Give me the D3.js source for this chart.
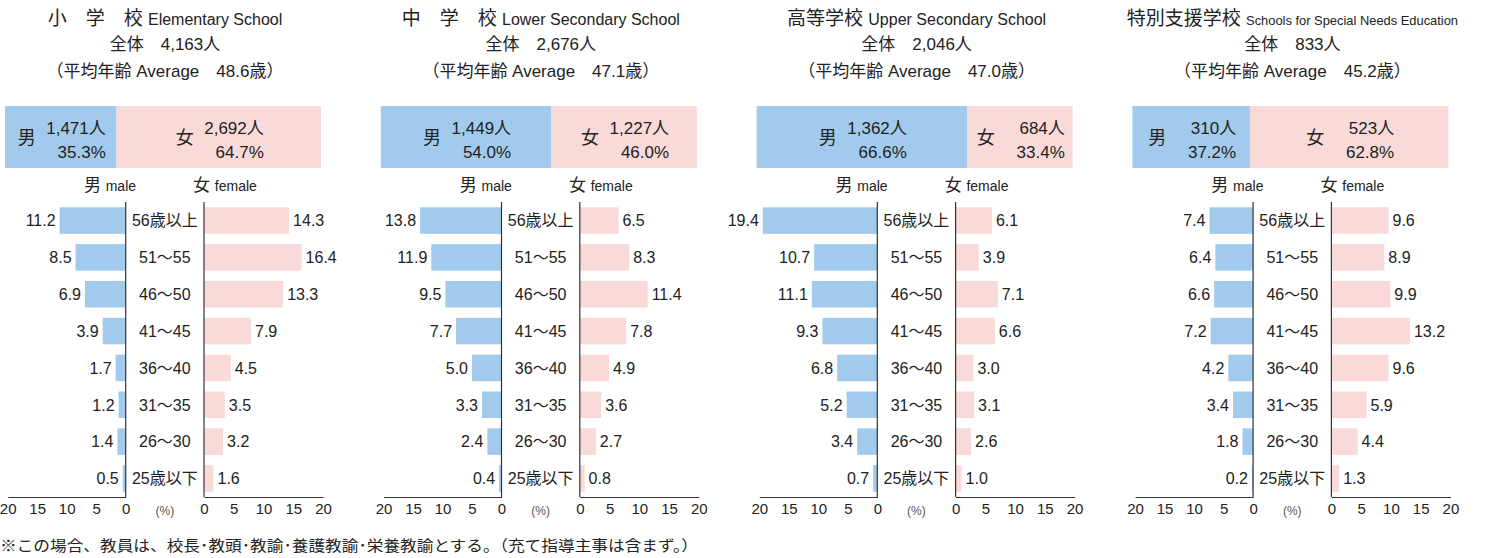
<!DOCTYPE html>
<html>
<head>
<meta charset="utf-8">
<script src="https://cdn.jsdelivr.net/npm/d3@7"></script>
<style>
  body { margin: 0; background: #fff; }
  svg text { font-family: "Liberation Sans", "Noto Sans CJK JP", sans-serif; fill: #222; }
</style>
</head>
<body>
<div id="chart"></div>
<script>
// Data
const titleJa = ["小　学　校", "中　学　校", "高等学校", "特別支援学校"];
const titleEn = ["Elementary School", "Lower Secondary School", "Upper Secondary School", "Schools for Special Needs Education"];
const totals = ["4,163", "2,676", "2,046", "833"];
const avgAge = ["48.6", "47.1", "47.0", "45.2"];
const maleCount = ["1,471", "1,449", "1,362", "310"];
const femaleCount = ["2,692", "1,227", "684", "523"];
const malePct = [35.3, 54.0, 66.6, 37.2];
const femalePct = [64.7, 46.0, 33.4, 62.8];
const ageGroups = ["56歳以上", "51～55", "46～50", "41～45", "36～40", "31～35", "26～30", "25歳以下"];
const maleShare = [
  [11.2, 8.5, 6.9, 3.9, 1.7, 1.2, 1.4, 0.5],
  [13.8, 11.9, 9.5, 7.7, 5.0, 3.3, 2.4, 0.4],
  [19.4, 10.7, 11.1, 9.3, 6.8, 5.2, 3.4, 0.7],
  [7.4, 6.4, 6.6, 7.2, 4.2, 3.4, 1.8, 0.2]
];
const femaleShare = [
  [14.3, 16.4, 13.3, 7.9, 4.5, 3.5, 3.2, 1.6],
  [6.5, 8.3, 11.4, 7.8, 4.9, 3.6, 2.7, 0.8],
  [6.1, 3.9, 7.1, 6.6, 3.0, 3.1, 2.6, 1.0],
  [9.6, 8.9, 9.9, 13.2, 9.6, 5.9, 4.4, 1.3]
];
const axisTicks = [0, 5, 10, 15, 20];
const footnote = "※この場合、教員は、校長･教頭･教諭･養護教諭･栄養教諭とする。（充て指導主事は含まず。）";

const width = 1486, height = 558;
const blue = "#a2caec", pink = "#f9dad9";
const panelStep = 375.8;

const svg = d3.select("#chart").append("svg")
  .attr("width", width)
  .attr("height", height);

// shared scales (panel-local coordinates)
const shareX = d3.scaleLinear().domain([0, 100]).range([5, 321]);
const maleX = d3.scaleLinear().domain([0, 20]).range([125.7, 7.7]);
const femaleX = d3.scaleLinear().domain([0, 20]).range([204, 323]);
const y = d3.scaleBand().domain(ageGroups).range([202, 497])
  .paddingInner(0.28).paddingOuter(0.144);
const midX = (maleX(0) + femaleX(0)) / 2;

titleJa.forEach((ja, p) => {
  const g = svg.append("g").attr("transform", `translate(${p * panelStep},0)`);

  // headings
  const t1 = g.append("text")
    .attr("x", 165).attr("y", 25)
    .attr("text-anchor", "middle");
  t1.append("tspan").style("font-size", "19px").text(ja + " ");
  const en = t1.append("tspan").style("font-size", p === 3 ? "13px" : "16px").text(titleEn[p]);
  if (p === 3) en.attr("textLength", 212).attr("lengthAdjust", "spacingAndGlyphs");

  g.append("text")
    .attr("x", 165).attr("y", 50)
    .attr("text-anchor", "middle")
    .style("font-size", "17px")
    .text(`全体　${totals[p]}人`);

  g.append("text")
    .attr("x", 165).attr("y", 77)
    .attr("text-anchor", "middle")
    .style("font-size", "17px")
    .text(`（平均年齢 Average　${avgAge[p]}歳）`);

  // male / female share bar
  const segs = [
    { from: 0, to: malePct[p], color: blue, sym: "男", count: maleCount[p], pct: malePct[p] },
    { from: malePct[p], to: 100, color: pink, sym: "女", count: femaleCount[p], pct: femalePct[p] }
  ];
  segs.forEach(s => {
    const x0 = shareX(s.from), x1 = shareX(s.to);
    const c = (x0 + x1) / 2;
    g.append("rect")
      .attr("x", x0).attr("y", 106)
      .attr("width", x1 - x0).attr("height", 62)
      .attr("fill", s.color);
    g.append("text")
      .attr("x", c - 34).attr("y", 144)
      .attr("text-anchor", "middle")
      .style("font-size", "18px")
      .text(s.sym);
    g.append("text")
      .attr("x", c + 45).attr("y", 134)
      .attr("text-anchor", "end")
      .style("font-size", "17px")
      .text(s.count + "人");
    g.append("text")
      .attr("x", c + 45).attr("y", 158)
      .attr("text-anchor", "end")
      .style("font-size", "17px")
      .text(s.pct.toFixed(1) + "%");
  });

  // legend labels
  const ml = g.append("text").attr("x", 110).attr("y", 191).attr("text-anchor", "middle");
  ml.append("tspan").style("font-size", "17px").text("男 ");
  ml.append("tspan").style("font-size", "14px").text("male");
  const fl = g.append("text").attr("x", 225).attr("y", 191).attr("text-anchor", "middle");
  fl.append("tspan").style("font-size", "17px").text("女 ");
  fl.append("tspan").style("font-size", "14px").text("female");

  // pyramid bars
  const rowsM = ageGroups.map((a, i) => ({ age: a, v: maleShare[p][i] }));
  const rowsF = ageGroups.map((a, i) => ({ age: a, v: femaleShare[p][i] }));

  g.selectAll(".bm").data(rowsM).join("rect")
    .attr("x", d => maleX(d.v))
    .attr("y", d => y(d.age))
    .attr("width", d => maleX(0) - maleX(d.v))
    .attr("height", y.bandwidth())
    .attr("fill", blue);

  g.selectAll(".bf").data(rowsF).join("rect")
    .attr("x", femaleX(0))
    .attr("y", d => y(d.age))
    .attr("width", d => femaleX(d.v) - femaleX(0))
    .attr("height", y.bandwidth())
    .attr("fill", pink);

  g.selectAll(".lm").data(rowsM).join("text")
    .attr("x", d => maleX(d.v) - 4)
    .attr("y", d => y(d.age) + y.bandwidth() / 2)
    .attr("dy", "0.36em")
    .attr("text-anchor", "end")
    .style("font-size", "16px")
    .text(d => d.v.toFixed(1));

  g.selectAll(".lf").data(rowsF).join("text")
    .attr("x", d => femaleX(d.v) + 4)
    .attr("y", d => y(d.age) + y.bandwidth() / 2)
    .attr("dy", "0.36em")
    .style("font-size", "16px")
    .text(d => d.v.toFixed(1));

  g.selectAll(".age").data(ageGroups).join("text")
    .attr("x", midX)
    .attr("y", d => y(d) + y.bandwidth() / 2)
    .attr("dy", "0.36em")
    .attr("text-anchor", "middle")
    .style("font-size", "16px")
    .text(d => d);

  // vertical axis lines
  [maleX(0), femaleX(0)].forEach(xx => {
    g.append("line")
      .attr("x1", xx).attr("x2", xx)
      .attr("y1", 202).attr("y2", 497)
      .attr("stroke", "#333").attr("stroke-width", 1.2);
  });

  // bottom axes
  [maleX, femaleX].forEach(sc => {
    const ax = g.append("g")
      .attr("transform", "translate(0,497)")
      .call(d3.axisBottom(sc).tickValues(axisTicks).tickSize(0).tickSizeOuter(0).tickPadding(6));
    ax.select(".domain").attr("stroke", "#333").attr("stroke-width", 1.2);
    ax.selectAll("text")
      .style("font-size", "15px")
      .style("font-family", null)
      .attr("fill", "#222");
  });

  g.append("text")
    .attr("x", midX).attr("y", 515)
    .attr("text-anchor", "middle")
    .style("font-size", "12px")
    .style("fill", "#555")
    .text("(%)");
});

svg.append("text")
  .attr("x", 0).attr("y", 551)
  .style("font-size", "15px")
  .attr("textLength", 698)
  .attr("lengthAdjust", "spacingAndGlyphs")
  .text(footnote);
</script>
</body>
</html>
